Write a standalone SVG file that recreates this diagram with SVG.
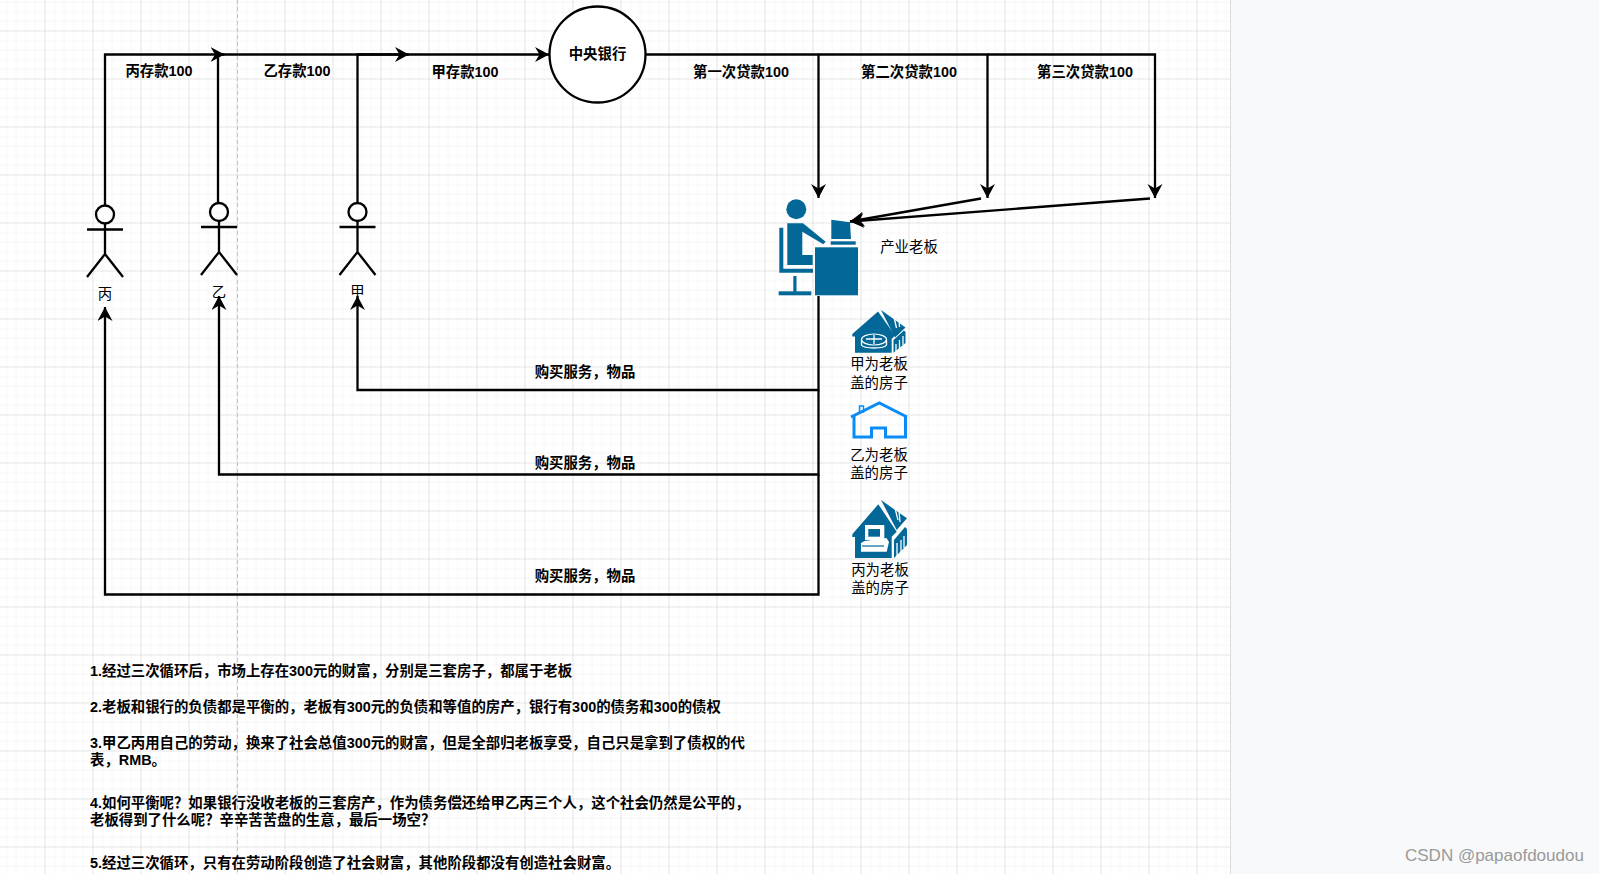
<svg xmlns="http://www.w3.org/2000/svg" width="1599" height="874" viewBox="0 0 1599 874">
<style>
text{font-family:"Liberation Sans","Noto Sans CJK SC",sans-serif;font-size:14.4px;fill:#000}
.b{font-weight:700}
.m{text-anchor:middle}
.c{fill:none;stroke:#000;stroke-width:2.3}
.a{fill:none;stroke:#000;stroke-width:2.3}
.i{fill:#036897}
.w{fill:none;stroke:#fff;stroke-width:1.3}
.y{fill:none;stroke:#0b8bf5;stroke-width:3}
</style>
<defs>
<marker id="ah" markerUnits="userSpaceOnUse" markerWidth="16" markerHeight="16" refX="14" refY="7.500" orient="auto"><path d="M0 0L14 7.500L0 15L4.500 7.500Z" fill="#000"/></marker>
<pattern id="g" width="48" height="48" patternUnits="userSpaceOnUse" x="44.500" y="30.500">
<path d="M10.100 0V48M19.700 0V48M29.300 0V48M38.900 0V48M0 10.100H48M0 19.700H48M0 29.300H48M0 38.900H48" stroke="#f6f6f6" stroke-width="1" fill="none"/>
<path d="M0.500 0V48M0 0.500H48" stroke="#e4e4e4" stroke-width="1" fill="none"/>
</pattern>
</defs>
<rect width="1599" height="874" fill="#fff"/>
<rect width="1231" height="874" fill="url(#g)"/>
<rect x="1231" width="368" height="874" fill="#f8f9fa"/>
<path d="M1230.500 0V874" stroke="#dcdcdc"/>
<path d="M237.500 0V874" stroke="#c4c4c4" stroke-dasharray="4 3"/>
<g id="connectors">
<path class="c" marker-end="url(#ah)" d="M105 205V54.500H224.500"/>
<path class="c" marker-end="url(#ah)" d="M218 203V54.500H409"/>
<path class="c" marker-end="url(#ah)" d="M357.500 203V54.500H549"/>
<path class="c" marker-end="url(#ah)" d="M646 54.500H818.500V198"/>
<path class="c" marker-end="url(#ah)" d="M818.500 54.500H987.500V198"/>
<path class="c" marker-end="url(#ah)" d="M987.500 54.500H1155V198"/>
<path class="c" marker-end="url(#ah)" d="M981 198.500L850 221.500"/>
<path class="c" marker-end="url(#ah)" d="M1150 198.500L850 221.500"/>
<path class="c" marker-end="url(#ah)" d="M818.500 296V390H357.500V296"/>
<path class="c" marker-end="url(#ah)" d="M818.500 390V474.500H219V296"/>
<path class="c" marker-end="url(#ah)" d="M818.500 474.500V594.500H105V307"/>
</g>
<g id="labels">
<text class="b m" x="159" y="76">丙存款100</text>
<text class="b m" x="297" y="76">乙存款100</text>
<text class="b m" x="465" y="77">甲存款100</text>
<text class="b m" x="741" y="77">第一次贷款100</text>
<text class="b m" x="909" y="77">第二次贷款100</text>
<text class="b m" x="1085" y="77">第三次贷款100</text>
<text class="b m" x="585" y="377">购买服务&#65292;物品</text>
<text class="b m" x="585" y="468">购买服务&#65292;物品</text>
<text class="b m" x="585" y="581">购买服务&#65292;物品</text>
</g>
<g id="bank"><circle cx="597.500" cy="54.500" r="48" fill="#fff" stroke="#000" stroke-width="2.300"/><text class="b m" x="597.500" y="59">中央银行</text></g>
<g id="actor-bing"><circle class="a" cx="105" cy="214.500" r="9"/><path class="a" d="M105 223.500V254M87 229.500H123M87 277L105 254L123 277"/><text class="m" x="105" y="299">丙</text></g>
<g id="actor-yi"><circle class="a" cx="219" cy="212" r="9"/><path class="a" d="M219 221V252M201 227H237M201 275L219 252L237 275"/><text class="m" x="219" y="297">乙</text></g>
<g id="actor-jia"><circle class="a" cx="357.500" cy="212" r="9"/><path class="a" d="M357.500 221V252M339.500 227H375.500M339.500 275L357.500 252L375.500 275"/><text class="m" x="357.500" y="297">甲</text></g>
<g id="boss">
<circle class="i" cx="796.300" cy="209.300" r="10"/>
<path class="i" d="M787.300 223.300H803L825.700 241.700L823.300 244.300L802.300 231.700V255H812.700V265H787.300Z"/>
<path class="i" d="M779.300 227.700H783.300V268.700H813V272.700H779.300Z"/>
<rect class="i" x="793.300" y="276" width="3.200" height="16"/>
<rect class="i" x="778.700" y="291.300" width="32.600" height="4"/>
<path class="i" d="M831.300 219.700L850 222.300L851 239H831.300Z"/>
<rect class="i" x="830.700" y="241.300" width="25" height="3.400"/>
<rect class="i" x="815" y="247.300" width="43" height="48"/>
<text class="m" x="909" y="252">产业老板</text>
</g>
<g id="house-jia">
<path class="i" d="M852.300 334L878 311.500L895 335.500L891.700 339V352.700H855V336.500H852.300Z"/>
<path class="i" d="M881 310L905.500 327.500L895 337.500Z"/>
<path class="i" d="M893.500 340L904 330.500L905.500 332V343L893.500 352.700Z"/>
<path class="w" d="M896 344L896 352M899.500 340V349M903 336V345M894 317L896.500 328M899 318L899.500 327"/>
<ellipse cx="874" cy="339.500" rx="12.500" ry="5.500" fill="#036897" stroke="#fff" stroke-width="1.200"/>
<path class="w" d="M861.500 340V345C864 349 884 349 886.500 345V340M866 339H882M874 335V344"/>
<text class="m" x="879" y="369">甲为老板</text><text class="m" x="879" y="388">盖的房子</text>
</g>
<g id="house-yi">
<path class="y" d="M851 417L879.300 403L907 417" stroke-width="4"/>
<path class="y" d="M854 416V437H871.500V428H885.500V437H905.500V416"/>
<rect x="859.500" y="406" width="4" height="6" fill="none" stroke="#0b8bf5" stroke-width="1.500"/>
<text class="m" x="879" y="460">乙为老板</text><text class="m" x="879" y="478">盖的房子</text>
</g>
<g id="house-bing">
<path class="i" d="M852.300 534.300L878.300 504.300L896.700 531.700L891.700 536.700V558H855V537H852.300Z"/>
<path class="i" d="M881 500L907 518.300L896.700 530Z"/>
<path class="i" d="M894 540L905 527L907 529V545L894 558Z"/>
<path class="w" d="M897 543V557M901 540V552M904 536V548M895 508L898 520M899 510L900 522"/>
<path d="M865 525H884.300V540H865Z" fill="#fff"/>
<path d="M864.500 541L886.500 538L889 542L886.700 551.700H861V543Z" fill="#fff"/>
<rect x="868.300" y="529" width="11.700" height="7.700" class="i"/>
<path d="M862 546H884" stroke="#036897" stroke-width="1.200"/>
<text class="m" x="880" y="575">丙为老板</text><text class="m" x="880" y="593">盖的房子</text>
</g>
<g id="notes">
<text class="b" x="90" y="676">1.经过三次循环后&#65292;市场上存在300元的财富&#65292;分别是三套房子&#65292;都属于老板</text>
<text class="b" x="90" y="712">2.老板和银行的负债都是平衡的&#65292;老板有300元的负债和等值的房产&#65292;银行有300的债务和300的债权</text>
<text class="b" x="90" y="748">3.甲乙丙用自己的劳动&#65292;换来了社会总值300元的财富&#65292;但是全部归老板享受&#65292;自己只是拿到了债权的代</text>
<text class="b" x="90" y="765">表&#65292;RMB。</text>
<text class="b" x="90" y="808">4.如何平衡呢&#65311;如果银行没收老板的三套房产&#65292;作为债务偿还给甲乙丙三个人&#65292;这个社会仍然是公平的&#65292;</text>
<text class="b" x="90" y="825">老板得到了什么呢&#65311;辛辛苦苦盘的生意&#65292;最后一场空&#65311;</text>
<text class="b" x="90" y="868">5.经过三次循环&#65292;只有在劳动阶段创造了社会财富&#65292;其他阶段都没有创造社会财富。</text>
</g>
<text x="1405" y="861" style="font-size:17px;fill:#999">CSDN @papaofdoudou</text>
</svg>
